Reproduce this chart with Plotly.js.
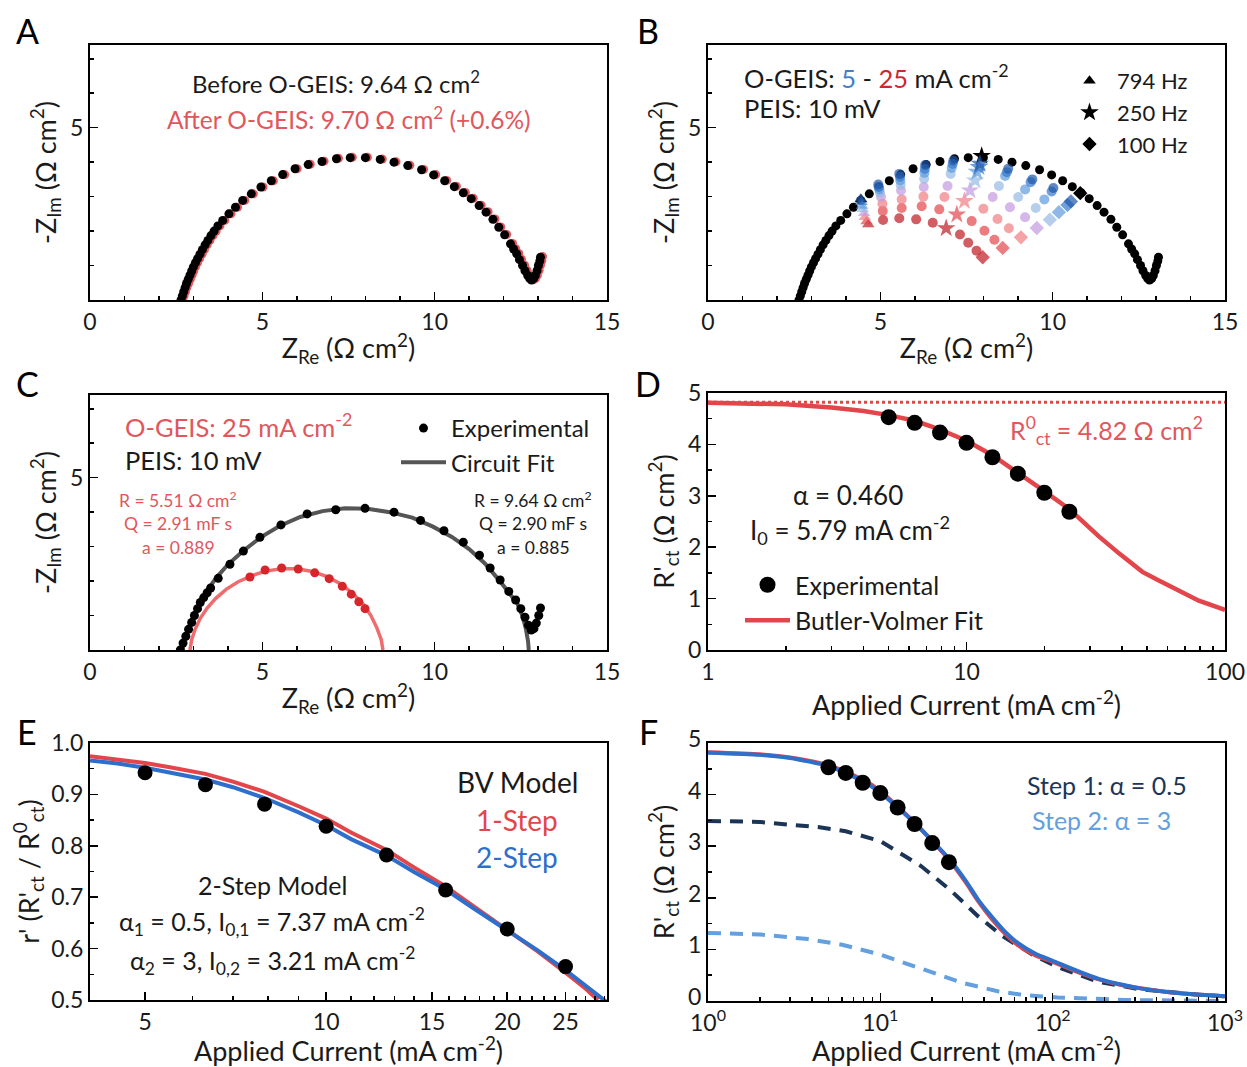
<!DOCTYPE html>
<html><head><meta charset="utf-8">
<script src="https://cdn.plot.ly/plotly-3.0.1.min.js"></script>
<style>html,body{margin:0;padding:0;background:#fff}</style>
</head><body><div id="chart" style="width:1247px;height:1067px"></div>
<script>
// ================= DATA =================
// Panel A / B : PEIS (before O-GEIS), Ω cm²
const peisRe = [2.64,2.68,2.72,2.76,2.80,2.85,2.90,2.95,3.00,3.06,3.12,3.19,3.26,3.34,3.42,3.51,3.60,3.71,3.85,4.03,4.22,4.43,4.68,4.96,5.26,5.59,5.95,6.33,6.73,7.15,7.55,7.99,8.42,8.82,9.22,9.62,9.97,10.29,10.57,10.83,11.06,11.29,11.49,11.69,11.86,12.03,12.20,12.29,12.38,12.46,12.55,12.62,12.70,12.76,12.81,12.87,12.92,12.97,13.01,13.05,13.07];
const peisIm = [0.00,0.12,0.24,0.36,0.48,0.60,0.72,0.84,0.96,1.08,1.20,1.33,1.46,1.60,1.73,1.87,2.00,2.15,2.31,2.50,2.69,2.89,3.08,3.28,3.46,3.64,3.81,3.93,4.02,4.10,4.13,4.13,4.08,4.00,3.90,3.78,3.63,3.46,3.29,3.11,2.94,2.74,2.55,2.34,2.11,1.89,1.63,1.48,1.34,1.17,1.00,0.85,0.71,0.62,0.58,0.62,0.71,0.85,1.00,1.13,1.24];
// Panel A : PEIS after O-GEIS
const afterRe = [2.69,2.73,2.77,2.81,2.86,2.91,2.96,3.01,3.06,3.12,3.18,3.25,3.32,3.40,3.48,3.57,3.66,3.77,3.91,4.09,4.28,4.49,4.74,5.02,5.32,5.65,6.01,6.39,6.79,7.21,7.61,8.05,8.48,8.88,9.28,9.68,10.03,10.35,10.63,10.89,11.12,11.35,11.55,11.75,11.92,12.09,12.26,12.35,12.44,12.52,12.61,12.68,12.76,12.82,12.87,12.93,12.98,13.03,13.07,13.11,13.13];
const afterIm = [0.00,0.12,0.24,0.36,0.48,0.60,0.72,0.84,0.96,1.08,1.20,1.33,1.46,1.60,1.73,1.87,2.00,2.15,2.31,2.50,2.69,2.89,3.08,3.28,3.46,3.64,3.81,3.94,4.03,4.11,4.14,4.14,4.09,4.01,3.91,3.79,3.64,3.47,3.30,3.12,2.95,2.75,2.56,2.35,2.12,1.90,1.64,1.49,1.35,1.18,1.01,0.86,0.72,0.63,0.59,0.63,0.72,0.86,1.01,1.14,1.26];

// Panel B : O-GEIS at 8 currents (mA cm⁻²), 10 frequencies 794 → 100 Hz
const currents = [5, 6.3, 7.9, 10, 12.6, 15.8, 20, 25];
const currentColors = ['#1f55a8','#3378cc','#5c9ade','#94b9e2','#c398e0','#f07e80','#e2454a','#bf1a22'];
const ogeisRe = [
  [4.43,4.94,5.55,6.30,7.12,7.89,8.71,9.41,10.02,10.53],
  [4.45,4.95,5.57,6.29,7.10,7.86,8.67,9.36,9.97,10.43],
  [4.47,4.97,5.58,6.28,7.07,7.80,8.62,9.20,9.76,10.18],
  [4.49,4.99,5.59,6.27,7.04,7.75,8.44,9.00,9.51,9.92],
  [4.53,5.02,5.60,6.26,6.95,7.60,8.26,8.76,9.20,9.54],
  [4.55,5.06,5.62,6.25,6.86,7.44,7.99,8.40,8.73,9.08],
  [4.60,5.07,5.62,6.20,6.71,7.22,7.65,8.02,8.31,8.55],
  [4.65,5.08,5.55,6.04,6.52,6.91,7.31,7.55,7.79,7.97]
];
const ogeisIm = [
  [2.94,3.35,3.66,3.92,4.05,3.95,3.81,3.50,3.25,2.86],
  [2.84,3.28,3.58,3.80,3.95,3.86,3.71,3.42,3.15,2.76],
  [2.73,3.21,3.47,3.69,3.83,3.72,3.60,3.21,2.92,2.55],
  [2.63,3.11,3.34,3.52,3.66,3.47,3.31,2.99,2.67,2.33],
  [2.52,2.99,3.18,3.28,3.31,3.18,2.99,2.69,2.40,2.09],
  [2.40,2.79,2.92,3.00,2.99,2.87,2.65,2.35,2.08,1.82],
  [2.28,2.58,2.67,2.72,2.63,2.48,2.29,2.01,1.75,1.51],
  [2.19,2.32,2.37,2.34,2.24,2.08,1.90,1.66,1.43,1.24]
];
// PEIS points at the marked frequencies
const markFreqNames = ['794 Hz', '250 Hz', '100 Hz'];
const markFreqRe = [4.44, 7.94, 10.80];
const markFreqIm = [2.92, 4.18, 3.10];

// Panel C
const cPeisRe = [2.62,2.70,2.78,2.86,2.95,3.03,3.12,3.20,3.30,3.40,3.50,3.72,4.06,4.45,4.93,5.54,6.30,7.13,7.98,8.82,9.59,10.27,10.83,11.30,11.61,11.90,12.15,12.35,12.50,12.62,12.72,12.80,12.88,12.95,13.02,13.07];
const cPeisIm = [0.00,0.20,0.40,0.60,0.80,1.00,1.20,1.38,1.52,1.66,1.80,2.08,2.49,2.87,3.27,3.63,3.95,4.07,4.11,4.00,3.76,3.46,3.13,2.75,2.38,2.03,1.70,1.45,1.20,0.95,0.72,0.58,0.62,0.78,1.00,1.22];
const cOgeisRe = [4.64,5.08,5.56,6.04,6.52,6.94,7.32,7.58,7.80,7.98];
const cOgeisIm = [2.12,2.32,2.38,2.35,2.24,2.07,1.85,1.62,1.40,1.20];
const cFitPeisRe = [2.68,2.75,2.90,3.10,3.35,3.65,4.00,4.45,4.95,5.50,6.10,6.75,7.40,8.05,8.70,9.35,9.95,10.50,11.00,11.45,11.85,12.15,12.40,12.55,12.65,12.71,12.73];
const cFitPeisIm = [0.00,0.30,0.75,1.20,1.65,2.08,2.48,2.88,3.27,3.60,3.86,4.03,4.11,4.10,4.00,3.84,3.58,3.28,2.93,2.52,2.05,1.65,1.35,0.98,0.60,0.25,0.00];
const cFitOgeisRe = [2.90,2.95,3.05,3.20,3.40,3.65,3.95,4.30,4.70,5.10,5.55,6.00,6.45,6.90,7.30,7.65,7.95,8.15,8.32,8.45,8.50];
const cFitOgeisIm = [0.00,0.30,0.60,0.92,1.22,1.50,1.76,1.98,2.16,2.29,2.36,2.36,2.28,2.12,1.90,1.62,1.30,1.00,0.65,0.30,0.00];

// Panel D
const appliedCurrent = [5, 6.3, 7.9, 10, 12.6, 15.8, 20, 25];
const rctExp = [4.53, 4.42, 4.23, 4.03, 3.75, 3.43, 3.06, 2.69];
const rct0 = 4.82;
const bvFitI = [1,1.5,2,3,4,5,6.3,7.9,10,12.6,15.8,20,25,32.5,38.9,47.9,55,61.7,70,79.2,100];
const bvFitR = [4.81,4.80,4.78,4.72,4.65,4.57,4.46,4.29,4.07,3.79,3.46,3.09,2.74,2.21,1.88,1.52,1.36,1.23,1.09,0.96,0.78];

// Panel E
const ratioExp = [0.942, 0.919, 0.881, 0.838, 0.782, 0.714, 0.638, 0.565];
const oneStepI = [4.05,4.5,5,5.5,6.3,7,7.9,9,10,11,12.6,14,15.8,17.5,20,22.5,25,27,28.3];
const oneStepR = [0.974,0.968,0.961,0.953,0.940,0.925,0.905,0.877,0.853,0.826,0.792,0.758,0.721,0.684,0.637,0.594,0.553,0.522,0.500];
const twoStepI = [4.05,4.5,5,5.5,6.3,7,7.9,9,10,11,12.6,14,15.8,17.5,20,22.5,25,27,28.3,29.2];
const twoStepR = [0.966,0.960,0.952,0.943,0.929,0.914,0.893,0.865,0.840,0.813,0.781,0.749,0.715,0.680,0.636,0.596,0.558,0.528,0.510,0.497];

// Panel F
const fI = [1,2,3,5,7.9,10,15.8,25,31.6,37,43.6,52,63,80,100,140,185,250,317,450,600,800,1000];
const fOneStep = [4.82,4.78,4.72,4.57,4.29,4.07,3.46,2.74,2.28,1.93,1.62,1.33,1.08,0.88,0.76,0.56,0.42,0.31,0.25,0.18,0.14,0.11,0.09];
const fTwoStep = [4.81,4.77,4.71,4.55,4.26,4.04,3.45,2.76,2.31,1.96,1.66,1.37,1.12,0.91,0.78,0.58,0.43,0.32,0.25,0.18,0.14,0.11,0.09];
const step1I = [1,2,3.16,4.35,6.3,10,17.3,25.5,37,51,78,108,185,317,700,1000];
const step1R = [3.49,3.47,3.41,3.37,3.29,3.10,2.61,2.15,1.64,1.26,0.88,0.65,0.37,0.23,0.12,0.09];
const step2I = [1,2,3.8,6,10,15,22.6,30,48,70,107,180,262,500,1000];
const step2R = [1.32,1.29,1.20,1.09,0.90,0.69,0.48,0.35,0.19,0.11,0.07,0.04,0.02,0.01,0.00];

// ================= STYLE / LAYOUT =================
const FONT = 'Lato, "Open Sans", sans-serif';
const W = 1247, H = 1067;
const px = v => v / W, py = v => 1 - v / H;
const RED = '#e2464b', BLUE = '#2f6fcc', NAVY = '#1c3557', LIGHTBLUE = '#64a0e0', TXTRED = '#e0575c';
const TICK = 23, TITLE = 27;

function ax(extra) {
  const base = {
    showline: true, linecolor: '#000', linewidth: 2, mirror: true,
    ticks: 'inside', ticklen: 8, tickwidth: 1.5, tickcolor: '#000',
    showgrid: false, zeroline: false, automargin: false, fixedrange: true,
    tickfont: {family: FONT, size: TICK, color: '#1a1a1a'},
    minor: {ticks: 'inside', ticklen: 4, tickwidth: 1.5, tickcolor: '#000', showgrid: false}
  };
  const o = Object.assign(base, extra);
  if (extra.minorExtra) { o.minor = Object.assign({}, base.minor, extra.minorExtra); delete o.minorExtra; }
  if (extra.titleText !== undefined) {
    o.title = {text: extra.titleText, font: {family: FONT, size: TITLE, color: '#1a1a1a'},
      standoff: extra.standoff !== undefined ? extra.standoff : 6};
    delete o.titleText; delete o.standoff;
  }
  return o;
}
const zTitleX = 'Z<sub>Re</sub> (Ω cm<sup>2</sup>)';
const zTitleY = '-Z<sub>Im</sub> (Ω cm<sup>2</sup>)';
const curTitle = 'Applied Current (mA cm<sup>-2</sup>)';
const colL = [90 / W, 607 / W], colR = [708 / W, 1225 / W];
const logMinor = (decades) => { const v = []; decades.forEach(d => { for (let k = 2; k <= 9; k++) v.push(k * d); }); return v; };

const traces = [];
// ---- A ----
traces.push({x: afterRe, y: afterIm, xaxis: 'x', yaxis: 'y', mode: 'markers', type: 'scatter', showlegend: false,
  marker: {color: '#e8575c', size: 9}});
traces.push({x: peisRe, y: peisIm, xaxis: 'x', yaxis: 'y', mode: 'markers', type: 'scatter', showlegend: false,
  marker: {color: '#000', size: 9}});
// ---- B ----
traces.push({x: peisRe, y: peisIm, xaxis: 'x2', yaxis: 'y2', mode: 'markers', type: 'scatter', showlegend: false,
  marker: {color: '#000', size: 9}});
const markSymbols = ['triangle-up', 'star', 'diamond'];
const markSizes = [11, 14, 11];
markFreqNames.forEach((nm, i) => {
  traces.push({x: [markFreqRe[i]], y: [markFreqIm[i]], name: nm, xaxis: 'x2', yaxis: 'y2', mode: 'markers', type: 'scatter',
    legend: 'legend', legendrank: i + 1, marker: {color: '#000', size: markSizes[i], symbol: markSymbols[i]}});
});
const bSymbols = ['triangle-up','circle','circle','circle','circle','star','circle','circle','circle','diamond'];
const bSizes = [11,10,10,10,10,14,10,10,10,11];
for (let k = currents.length - 1; k >= 0; k--) {
  traces.push({x: ogeisRe[k], y: ogeisIm[k], name: currents[k] + ' mA cm-2', xaxis: 'x2', yaxis: 'y2', mode: 'markers', type: 'scatter',
    showlegend: false, marker: {color: currentColors[k], size: bSizes, symbol: bSymbols, line: {width: 0}}});
}
// ---- C ----
traces.push({x: cFitOgeisRe, y: cFitOgeisIm, xaxis: 'x3', yaxis: 'y3', mode: 'lines', type: 'scatter', showlegend: false,
  line: {color: '#ef6b6e', width: 3.5}});
traces.push({x: cFitPeisRe, y: cFitPeisIm, xaxis: 'x3', yaxis: 'y3', mode: 'lines', type: 'scatter', name: 'Circuit Fit',
  legend: 'legend2', legendrank: 2, line: {color: '#555', width: 4}});
traces.push({x: cPeisRe, y: cPeisIm, xaxis: 'x3', yaxis: 'y3', mode: 'markers', type: 'scatter', name: 'Experimental',
  legend: 'legend2', legendrank: 1, marker: {color: '#000', size: 9}});
traces.push({x: cOgeisRe, y: cOgeisIm, xaxis: 'x3', yaxis: 'y3', mode: 'markers', type: 'scatter', showlegend: false,
  marker: {color: '#d6262c', size: 9}});
// ---- D ----
traces.push({x: [1, 100], y: [rct0, rct0], xaxis: 'x4', yaxis: 'y4', mode: 'lines', type: 'scatter', showlegend: false,
  line: {color: RED, width: 3, dash: 'dot'}});
traces.push({x: bvFitI, y: bvFitR, xaxis: 'x4', yaxis: 'y4', mode: 'lines', type: 'scatter', name: 'Butler-Volmer Fit',
  legend: 'legend3', legendrank: 2, line: {color: RED, width: 4.5}});
traces.push({x: appliedCurrent, y: rctExp, xaxis: 'x4', yaxis: 'y4', mode: 'markers', type: 'scatter', name: 'Experimental',
  legend: 'legend3', legendrank: 1, marker: {color: '#000', size: 16}});
// ---- E ----
traces.push({x: oneStepI, y: oneStepR, xaxis: 'x5', yaxis: 'y5', mode: 'lines', type: 'scatter', showlegend: false,
  line: {color: RED, width: 4}});
traces.push({x: twoStepI, y: twoStepR, xaxis: 'x5', yaxis: 'y5', mode: 'lines', type: 'scatter', showlegend: false,
  line: {color: BLUE, width: 4}});
traces.push({x: appliedCurrent, y: ratioExp, xaxis: 'x5', yaxis: 'y5', mode: 'markers', type: 'scatter', showlegend: false,
  marker: {color: '#000', size: 15}});
// ---- F ----
traces.push({x: step2I, y: step2R, xaxis: 'x6', yaxis: 'y6', mode: 'lines', type: 'scatter', showlegend: false,
  line: {color: LIGHTBLUE, width: 4, dash: '13px,9px'}});
traces.push({x: step1I, y: step1R, xaxis: 'x6', yaxis: 'y6', mode: 'lines', type: 'scatter', showlegend: false,
  line: {color: NAVY, width: 4, dash: '13px,9px'}});
traces.push({x: fI, y: fOneStep, xaxis: 'x6', yaxis: 'y6', mode: 'lines', type: 'scatter', showlegend: false,
  line: {color: RED, width: 4, shape: 'spline', smoothing: 0.6}});
traces.push({x: fI, y: fTwoStep, xaxis: 'x6', yaxis: 'y6', mode: 'lines', type: 'scatter', showlegend: false,
  line: {color: BLUE, width: 4, shape: 'spline', smoothing: 0.6}});
traces.push({x: appliedCurrent, y: rctExp, xaxis: 'x6', yaxis: 'y6', mode: 'markers', type: 'scatter', showlegend: false,
  marker: {color: '#000', size: 16}});

function ann(text, x, y, opts) {
  return Object.assign({text: text, x: px(x), y: py(y), xref: 'paper', yref: 'paper', showarrow: false,
    xanchor: 'center', yanchor: 'middle', font: {family: FONT, size: 22, color: '#1a1a1a'}}, opts || {});
}
const f = (size, color) => ({family: FONT, size: size, color: color || '#1a1a1a'});

const annotations = [
  ann('A', 27, 30, {font: f(34, '#000')}), ann('B', 648, 30, {font: f(34, '#000')}),
  ann('C', 27, 384, {font: f(34, '#000')}), ann('D', 648, 384, {font: f(34, '#000')}),
  ann('E', 27, 731, {font: f(34, '#000')}), ann('F', 648, 731, {font: f(34, '#000')}),
  // A
  ann('Before O-GEIS: 9.64 Ω cm<sup>2</sup>', 336, 82, {font: f(24)}),
  ann('After O-GEIS: 9.70 Ω cm<sup>2</sup> (+0.6%)', 349, 118, {font: f(24.5, TXTRED)}),
  // B
  ann("O-GEIS: <span style='color:#3f7fcb'>5</span> - <span style='color:#c92a2f'>25</span> mA cm<sup>-2</sup>", 742, 76, {xanchor: 'left', font: f(25.5)}),
  ann('PEIS: 10 mV', 742, 108, {xanchor: 'left', font: f(25.5)}),
  // C
  ann('O-GEIS: 25 mA cm<sup>-2</sup>', 123, 425, {xanchor: 'left', font: f(25.5, TXTRED)}),
  ann('PEIS: 10 mV', 123, 460, {xanchor: 'left', font: f(25.5)}),
  ann('R = 5.51 Ω cm<sup>2</sup>', 178, 499, {font: f(17.5, TXTRED)}),
  ann('Q = 2.91 mF s', 178, 523, {font: f(17.5, TXTRED)}),
  ann('a = 0.889', 178, 547, {font: f(17.5, TXTRED)}),
  ann('R = 9.64 Ω cm<sup>2</sup>', 533, 499, {font: f(17.5)}),
  ann('Q = 2.90 mF s', 533, 523, {font: f(17.5)}),
  ann('a = 0.885', 533, 547, {font: f(17.5)}),
  // D
  ann('R<sup>0</sup><sub>ct</sub> = 4.82 Ω cm<sup>2</sup>', 1205, 430, {xanchor: 'right', font: f(25, TXTRED)}),
  ann('α = 0.460', 848, 495, {font: f(26)}),
  ann('I<sub>0</sub> = 5.79 mA cm<sup>-2</sup>', 850, 530, {font: f(26)}),
  // E
  ann('BV Model', 517, 782, {font: f(28)}),
  ann('1-Step', 517, 820, {font: f(28, RED)}),
  ann('2-Step', 517, 857, {font: f(28, BLUE)}),
  ann('2-Step Model', 272, 885, {font: f(25)}),
  ann('α<sub>1</sub> = 0.5, I<sub>0,1</sub> = 7.37 mA cm<sup>-2</sup>', 272, 921, {font: f(25)}),
  ann('α<sub>2</sub> = 3, I<sub>0,2</sub> = 3.21 mA cm<sup>-2</sup>', 272, 960, {font: f(25)}),
  // F
  ann('Step 1: α = 0.5', 1107, 785, {font: f(25, NAVY)}),
  ann('Step 2: α = 3', 1101, 820, {font: f(25, LIGHTBLUE)})
];

const legendBase = {bgcolor: 'rgba(0,0,0,0)', borderwidth: 0, xanchor: 'left', yanchor: 'top',
  tracegroupgap: 0, itemclick: false, itemdoubleclick: false, traceorder: 'normal'};

const layout = {
  width: W, height: H, margin: {l: 0, r: 0, t: 0, b: 0},
  paper_bgcolor: '#fff', plot_bgcolor: '#fff',
  font: {family: FONT, color: '#1a1a1a'},
  showlegend: true,
  legend: Object.assign({}, legendBase, {x: px(1062), y: py(60), font: f(22), itemwidth: 45}),
  legend2: Object.assign({}, legendBase, {x: px(396), y: py(406), font: f(24), itemwidth: 45}),
  legend3: Object.assign({}, legendBase, {x: px(740), y: py(562), font: f(25), itemwidth: 45}),
  // A
  xaxis: ax({domain: colL, anchor: 'y', range: [0, 15], dtick: 5, tick0: 0, minorExtra: {dtick: 1, tick0: 0}, titleText: zTitleX}),
  yaxis: ax({domain: [py(300), py(45)], anchor: 'x', range: [0, 7.4], tickvals: [5], minorExtra: {dtick: 1, tick0: 0}, titleText: zTitleY}),
  // B
  xaxis2: ax({domain: colR, anchor: 'y2', range: [0, 15], dtick: 5, tick0: 0, minorExtra: {dtick: 1, tick0: 0}, titleText: zTitleX}),
  yaxis2: ax({domain: [py(300), py(45)], anchor: 'x2', range: [0, 7.4], tickvals: [5], minorExtra: {dtick: 1, tick0: 0}, titleText: zTitleY}),
  // C
  xaxis3: ax({domain: colL, anchor: 'y3', range: [0, 15], dtick: 5, tick0: 0, minorExtra: {dtick: 1, tick0: 0}, titleText: zTitleX}),
  yaxis3: ax({domain: [py(650), py(395)], anchor: 'x3', range: [0, 7.4], tickvals: [5], minorExtra: {dtick: 1, tick0: 0}, titleText: zTitleY}),
  // D
  xaxis4: ax({domain: colR, anchor: 'y4', type: 'log', range: [0, 2], tickvals: [1, 10, 100], ticktext: ['1', '10', '100'],
    minorExtra: {tickvals: logMinor([1, 10])}, titleText: curTitle, standoff: 0}),
  yaxis4: ax({domain: [py(650), py(393)], anchor: 'x4', range: [0, 5], dtick: 1, tick0: 0, minorExtra: {dtick: 0.5, tick0: 0},
    titleText: "R'<sub>ct</sub> (Ω cm<sup>2</sup>)"}),
  // E
  xaxis5: ax({domain: colL, anchor: 'y5', type: 'log', range: [Math.log10(4.05), Math.log10(29.3)], tickvals: [5, 10, 15, 20, 25],
    ticktext: ['5', '10', '15', '20', '25'],
    minorExtra: {tickvals: [6,7,8,9,11,12,13,14,16,17,18,19,21,22,23,24,26,27,28,29]}, titleText: curTitle, standoff: 4}),
  yaxis5: ax({domain: [py(1000), py(743)], anchor: 'x5', range: [0.5, 1.0], dtick: 0.1, tick0: 0.5, tickformat: '.1f',
    minorExtra: {dtick: 0.05, tick0: 0.5}, titleText: "r' (R'<sub>ct</sub> / R<sup>0</sup><sub>ct</sub>)", standoff: 4}),
  // F
  xaxis6: ax({domain: colR, anchor: 'y6', type: 'log', range: [0, 3], tickvals: [1, 10, 100, 1000],
    ticktext: ['10<sup>0</sup>', '10<sup>1</sup>', '10<sup>2</sup>', '10<sup>3</sup>'],
    minorExtra: {tickvals: logMinor([1, 10, 100])}, titleText: curTitle, standoff: 6}),
  yaxis6: ax({domain: [py(1001), py(743)], anchor: 'x6', range: [0, 5], dtick: 1, tick0: 0, ticklabelshift: -4,
    minorExtra: {dtick: 0.5, tick0: 0}, titleText: "R'<sub>ct</sub> (Ω cm<sup>2</sup>)"}),
  annotations: annotations
};

Plotly.newPlot('chart', traces, layout, {staticPlot: true, displayModeBar: false});
</script></body></html>
